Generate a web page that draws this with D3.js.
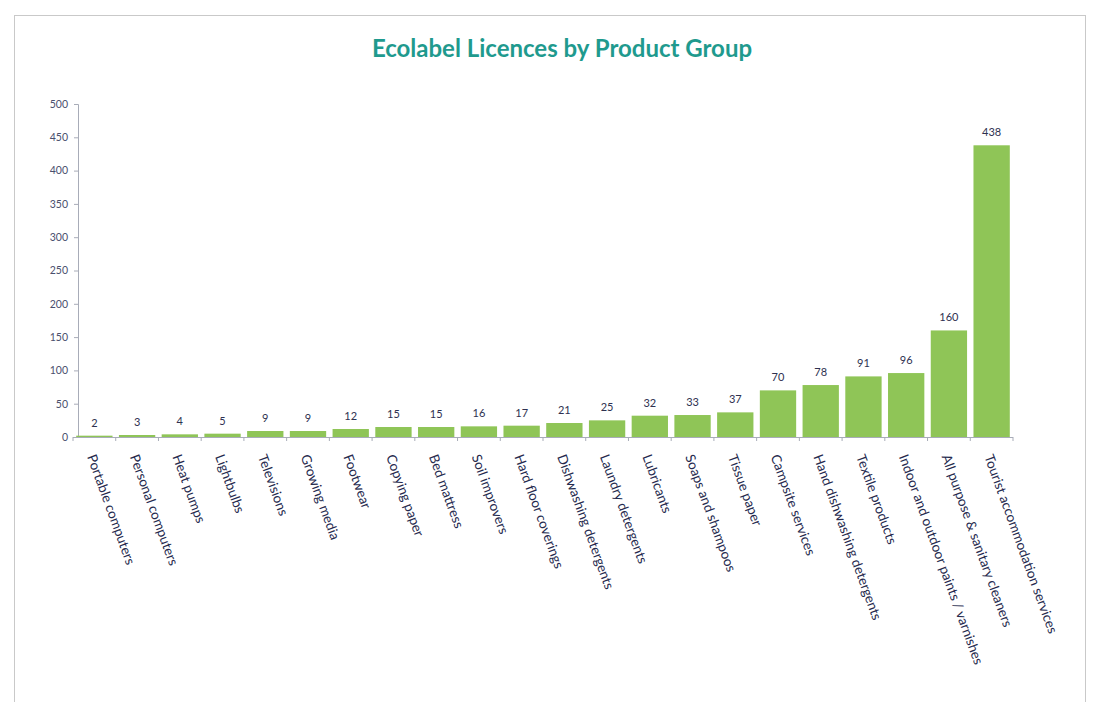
<!DOCTYPE html>
<html>
<head>
<meta charset="utf-8">
<script src="https://cdn.jsdelivr.net/npm/d3@7"></script>
<style>
  html, body { margin: 0; padding: 0; background: #ffffff; }
  svg { display: block; }
</style>
</head>
<body>
<svg id="chart" width="1096" height="702"></svg>
<script>
// Ecolabel licences per product group
const categories = [
  "Portable computers", "Personal computers", "Heat pumps", "Lightbulbs",
  "Televisions", "Growing media", "Footwear", "Copying paper",
  "Bed mattress", "Soil improvers", "Hard floor coverings", "Dishwashing detergents",
  "Laundry detergents", "Lubricants", "Soaps and shampoos", "Tissue paper",
  "Campsite services", "Hand dishwashing detergents", "Textile products",
  "Indoor and outdoor paints / varnishes", "All purpose & sanitary cleaners",
  "Tourist accommodation services"
];
const licences = [2, 3, 4, 5, 9, 9, 12, 15, 15, 16, 17, 21, 25, 32, 33, 37, 70, 78, 91, 96, 160, 438];
const yTicks = [0, 50, 100, 150, 200, 250, 300, 350, 400, 450, 500];

const svg = d3.select("#chart");

// outer frame of the chart area
svg.append("rect")
  .attr("x", 14.5).attr("y", 15.5)
  .attr("width", 1071).attr("height", 700)
  .attr("fill", "none")
  .attr("stroke", "#c9c9c9")
  .attr("stroke-width", 1);

// title
svg.append("text")
  .attr("x", 562).attr("y", 57)
  .attr("text-anchor", "middle")
  .attr("font-family", "Lato, 'Open Sans', sans-serif")
  .attr("font-weight", "bold")
  .attr("font-size", 24)
  .attr("fill", "#1f9a8e")
  .text("Ecolabel Licences by Product Group");

const plot = { left: 73, right: 1013, top: 104, bottom: 437 };

const x = d3.scaleBand()
  .domain(categories)
  .range([plot.left, plot.right])
  .paddingInner(0.15)
  .paddingOuter(0.075);

const y = d3.scaleLinear()
  .domain([0, 500])
  .range([plot.bottom, plot.top]);

// y axis
const yAxis = svg.append("g")
  .attr("transform", `translate(${plot.left + 5},0)`)
  .call(d3.axisLeft(y).tickValues(yTicks).tickSize(4).tickPadding(6));
yAxis.select(".domain").attr("stroke", "#a8acb8");
yAxis.selectAll(".tick line").attr("stroke", "#a8acb8");
yAxis.selectAll(".tick text")
  .attr("font-family", "Lato, 'Open Sans', sans-serif")
  .attr("font-size", 10.5)
  .attr("fill", "#4a4f6e");

// bars
svg.append("g").selectAll("rect")
  .data(categories)
  .join("rect")
  .attr("x", d => x(d))
  .attr("y", (d, i) => y(licences[i]))
  .attr("width", x.bandwidth())
  .attr("height", (d, i) => y(0) - y(licences[i]))
  .attr("fill", "#8fc557");

// x axis with ticks between categories
const boundaries = d3.range(categories.length + 1).map(i => plot.left + i * (plot.right - plot.left) / categories.length);
const xAxisG = svg.append("g");
xAxisG.append("line")
  .attr("x1", plot.left).attr("x2", plot.right)
  .attr("y1", plot.bottom + 0.5).attr("y2", plot.bottom + 0.5)
  .attr("stroke", "#a8acb8");
xAxisG.selectAll("line.tick")
  .data(boundaries)
  .join("line")
  .attr("class", "tick")
  .attr("x1", d => d).attr("x2", d => d)
  .attr("y1", plot.bottom).attr("y2", plot.bottom + 4)
  .attr("stroke", "#a8acb8");

// value labels
svg.append("g").selectAll("text")
  .data(categories)
  .join("text")
  .attr("x", d => x(d) + x.bandwidth() / 2)
  .attr("y", (d, i) => y(licences[i]) - 9)
  .attr("text-anchor", "middle")
  .attr("font-family", "Lato, 'Open Sans', sans-serif")
  .attr("font-size", 11)
  .attr("fill", "#2e3150")
  .text((d, i) => licences[i]);

// rotated category labels
svg.append("g").selectAll("text")
  .data(categories)
  .join("text")
  .attr("transform", d => `translate(${x(d) + x.bandwidth() / 2 - 3},${plot.bottom + 18}) rotate(70)`)
  .attr("text-anchor", "start")
  .attr("dy", "0.35em")
  .attr("font-family", "Lato, 'Open Sans', sans-serif")
  .attr("font-size", 13.5)
  .attr("fill", "#262a4e")
  .text(d => d);
</script>
</body>
</html>
